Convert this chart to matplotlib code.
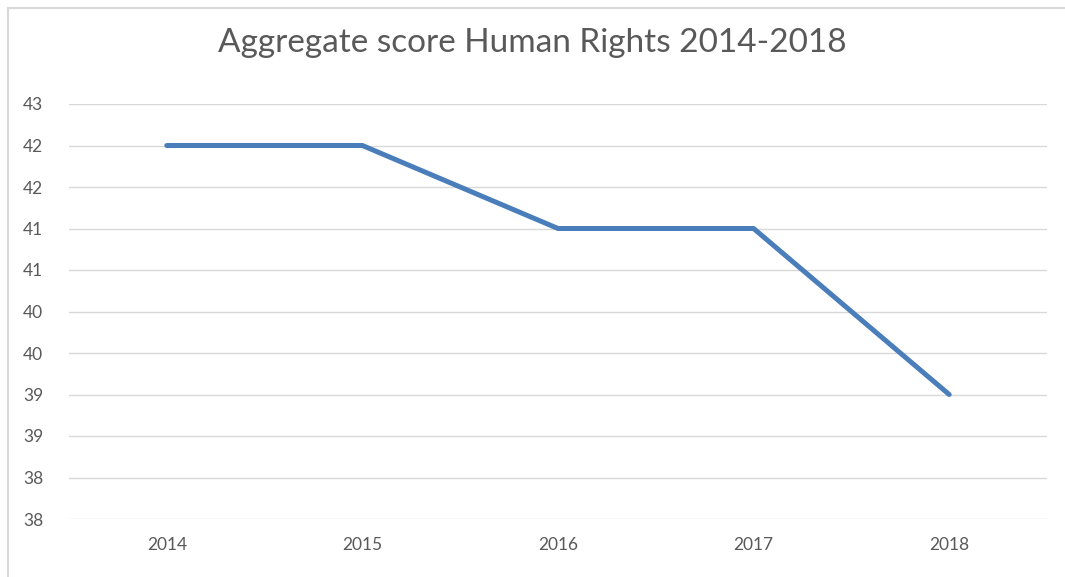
import matplotlib
matplotlib.use("Agg")
import matplotlib.pyplot as plt
from matplotlib.lines import Line2D
from matplotlib.ticker import FuncFormatter

years = ["2014", "2015", "2016", "2017", "2018"]
scores = [42, 42, 41, 41, 39]
y_ticks = [37.5, 38, 38.5, 39, 39.5, 40, 40.5, 41, 41.5, 42, 42.5]

plt.rcParams['font.family'] = ['Lato', 'DejaVu Sans']

W, H = 1065, 577
fig = plt.figure(figsize=(W / 100, H / 100), dpi=100)
ax = fig.add_axes([69 / W, 1 - 519 / H, (1047 - 69) / W, (519 - 104) / H])

# outer chart frame: only left and top edges show in the crop
fx, fy = 7.5 / W, 1 - 8 / H
fig.add_artist(Line2D([fx, fx], [0, fy], transform=fig.transFigure, color='#d9d9d9', linewidth=1.5))
fig.add_artist(Line2D([fx, 1], [fy, fy], transform=fig.transFigure, color='#d9d9d9', linewidth=1.5))

x = list(range(len(years)))
ax.plot(x, scores, color='#4a7ebb', linewidth=3.6, solid_capstyle='round', zorder=3)

ax.set_xlim(-0.5, len(years) - 0.5)
ax.set_ylim(y_ticks[0], y_ticks[-1])
ax.set_yticks(y_ticks)
# Excel rounds labels to whole numbers (half up)
ax.yaxis.set_major_formatter(FuncFormatter(lambda v, p: str(int(v + 0.5))))
ax.set_xticks(x)
ax.set_xticklabels(years)

ax.grid(axis='y', color='#d9d9d9', linewidth=1)
ax.set_axisbelow(True)
for s in ax.spines.values():
    s.set_visible(False)
ax.tick_params(length=0, labelsize=12.5, colors='#595959')
ax.tick_params(axis='y', pad=33)
ax.tick_params(axis='x', pad=13)
for lab in ax.get_yticklabels():
    lab.set_horizontalalignment('left')

fig.text(0.5, 1 - 43 / H, "Aggregate score Human Rights 2014-2018", ha='center', va='center',
         fontsize=24, color='#595959')

fig.savefig("out.png", dpi=100)
